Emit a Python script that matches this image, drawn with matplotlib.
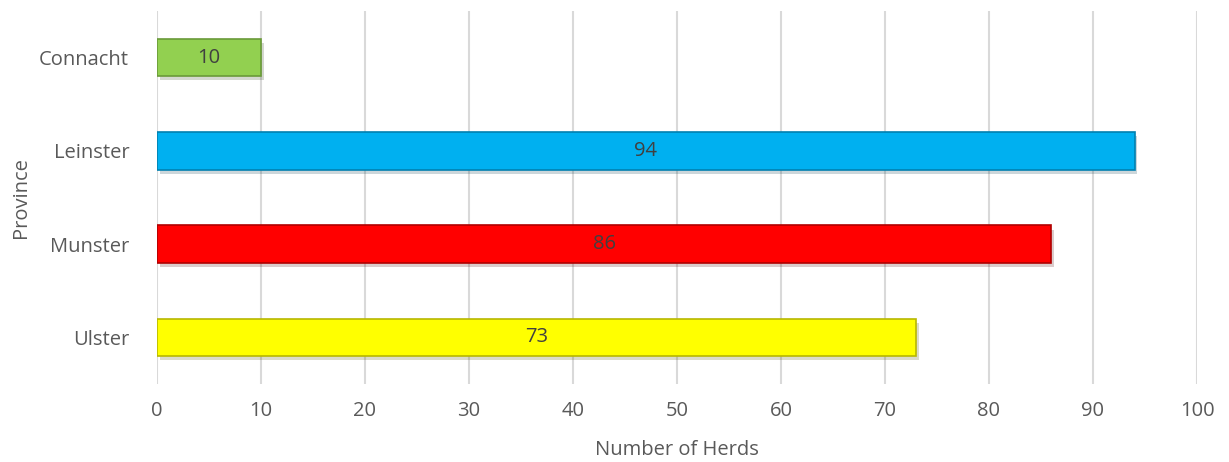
import matplotlib
matplotlib.use("Agg")
import matplotlib.pyplot as plt
import matplotlib.patheffects as pe

provinces = ["Ulster", "Munster", "Leinster", "Connacht"]
herds = [73, 86, 94, 10]
colors = ["#FFFF00", "#FF0000", "#00B0F0", "#92D050"]
edges = ["#B8B800", "#B00000", "#0080B0", "#6A9A38"]
xticks = [0, 10, 20, 30, 40, 50, 60, 70, 80, 90, 100]

plt.rcParams['font.family'] = ['Open Sans', 'DejaVu Sans']

fig = plt.figure(figsize=(12.29, 4.62), dpi=100)
ax = fig.add_axes([157 / 1229, 78 / 462, 1040 / 1229, 373 / 462])

bars = ax.barh(range(len(provinces)), herds, height=0.4, color=colors,
               edgecolor=edges, linewidth=1.2, zorder=3)
for bar in bars:
    bar.set_path_effects([pe.SimplePatchShadow(offset=(2, -3), alpha=0.2),
                          pe.Normal()])

for i, v in enumerate(herds):
    ax.text(v / 2, i, str(v), ha='center', va='center', fontsize=14.5,
            color='#404040', zorder=4)

ax.set_xlim(0, 100)
ax.set_ylim(-0.5, len(provinces) - 0.5)
ax.set_xticks(xticks)
ax.set_yticks(range(len(provinces)))
ax.set_yticklabels(provinces)
ax.tick_params(axis='both', length=0, labelsize=14.5, labelcolor='#595959')
ax.tick_params(axis='x', pad=12)
ax.tick_params(axis='y', pad=20)
ax.grid(axis='x', color='#D9D9D9', linewidth=1.5, zorder=0)
for s in ax.spines.values():
    s.set_visible(False)

ax.set_xlabel('Number of Herds', fontsize=14.5, color='#595959', labelpad=14)
ax.set_ylabel('Province', fontsize=14.5, color='#595959', labelpad=6)

fig.savefig('out.png', dpi=100)
